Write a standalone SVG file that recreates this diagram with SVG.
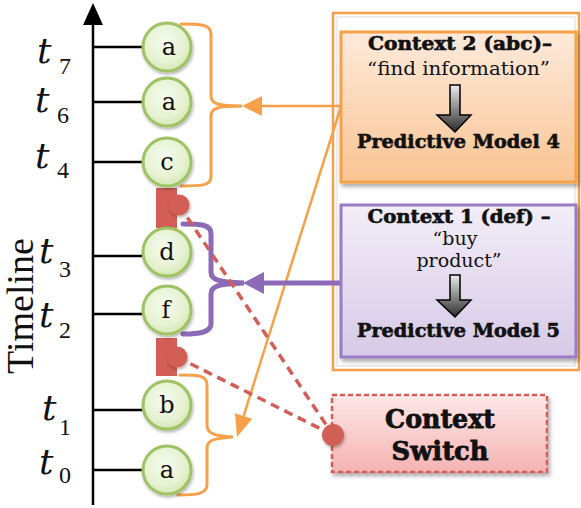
<svg xmlns="http://www.w3.org/2000/svg" width="581" height="508" viewBox="0 0 581 508">
<defs>
<style>
.ev{fill:url(#gEv);stroke:#9fc263;stroke-width:3}
.evt{font-family:"DejaVu Serif",serif;font-size:24px;fill:#111;text-anchor:middle}
.tick{stroke:#000;stroke-width:2.5}
.tl{font-family:"DejaVu Serif",serif;font-style:italic;font-size:36px;fill:#111}
.ts{font-family:"Liberation Serif",serif;font-size:24px;fill:#111}
.red{fill:#d25e57}
.dash{stroke:#d25e57;stroke-width:3.5;stroke-dasharray:9 6;fill:none}
.bo{fill:none;stroke:#f6a14a;stroke-width:3;stroke-linecap:round}
.bp{fill:none;stroke:#8d6ab8;stroke-width:5;stroke-linecap:round}
.hb{font-family:"DejaVu Serif",serif;font-weight:bold;font-size:18px;fill:#111;stroke:#111;stroke-width:0.6;text-anchor:middle}
.hn{font-family:"DejaVu Serif",serif;font-size:19px;fill:#111;text-anchor:middle}
.cs{font-family:"DejaVu Serif",serif;font-weight:bold;font-size:26px;fill:#111;stroke:#111;stroke-width:0.8;text-anchor:middle}
.darr{fill:url(#gArr);stroke:#000;stroke-width:1.5;stroke-linejoin:miter}
</style>
<radialGradient id="gEv" cx="0.45" cy="0.4" r="0.6">
<stop offset="0" stop-color="#f6fbee"/>
<stop offset="0.7" stop-color="#e6f2d2"/>
<stop offset="1" stop-color="#d4e8b4"/>
</radialGradient>
<linearGradient id="gC2" x1="0" y1="0" x2="0" y2="1">
<stop offset="0" stop-color="#fdeadb"/>
<stop offset="1" stop-color="#f9c493"/>
</linearGradient>
<linearGradient id="gC1" x1="0" y1="0" x2="0" y2="1">
<stop offset="0" stop-color="#f3eef8"/>
<stop offset="1" stop-color="#d6c9e6"/>
</linearGradient>
<linearGradient id="gCS" x1="0" y1="0" x2="0" y2="1">
<stop offset="0" stop-color="#fde8e8"/>
<stop offset="1" stop-color="#f6b3b3"/>
</linearGradient>
<linearGradient id="gArr" x1="0" y1="0" x2="0" y2="1">
<stop offset="0" stop-color="#ececec"/>
<stop offset="1" stop-color="#2a2a2a"/>
</linearGradient>
<filter id="sh" x="-10%" y="-10%" width="130%" height="130%">
<feDropShadow dx="2" dy="3" stdDeviation="2" flood-color="#000" flood-opacity="0.35"/>
</filter>
<filter id="shs" x="-20%" y="-20%" width="150%" height="150%">
<feDropShadow dx="1" dy="2" stdDeviation="1.5" flood-color="#000" flood-opacity="0.3"/>
</filter>
</defs>
<rect width="581" height="508" fill="#fff"/>

<g id="outer-frame">
<rect x="333" y="13" width="246" height="357" fill="#fff" stroke="#f6a14a" stroke-width="2.5"/>
<rect x="337" y="17" width="238" height="349" fill="none" stroke="#e6e6e6" stroke-width="1.5"/>
</g>

<g id="axis">
<line x1="93" y1="505" x2="93" y2="22" stroke="#000" stroke-width="2.5"/>
<polygon points="93,3 103,25 83,25" fill="#000"/>
<text transform="translate(33,306) rotate(-90)" font-family="'Liberation Serif',serif" font-size="38" text-anchor="middle" fill="#111">Timeline</text>
</g>

<g id="ticks">
<line class="tick" x1="93" y1="47" x2="145" y2="47"/>
<line class="tick" x1="93" y1="102" x2="145" y2="102"/>
<line class="tick" x1="93" y1="162" x2="145" y2="162"/>
<line class="tick" x1="93" y1="256" x2="145" y2="256"/>
<line class="tick" x1="93" y1="314" x2="145" y2="314"/>
<line class="tick" x1="93" y1="410" x2="145" y2="410"/>
<line class="tick" x1="93" y1="470" x2="145" y2="470"/>
</g>

<g id="time-labels">
<text class="tl" x="37" y="63">t</text><text class="ts" x="59" y="74">7</text>
<text class="tl" x="35" y="112">t</text><text class="ts" x="57" y="123">6</text>
<text class="tl" x="35" y="168">t</text><text class="ts" x="57" y="178">4</text>
<text class="tl" x="39" y="263">t</text><text class="ts" x="59" y="277">3</text>
<text class="tl" x="39" y="327">t</text><text class="ts" x="59" y="338">2</text>
<text class="tl" x="42" y="420">t</text><text class="ts" x="59" y="435">1</text>
<text class="tl" x="39" y="474">t</text><text class="ts" x="59" y="483">0</text>
</g>

<g id="connectors">
<path class="bo" d="M181,24 C200,24 211,24 211,34 L211,96 C211,104 218,106 242,106 C218,106 211,108 211,116 L211,177 C211,186 200,186 181,186"/>
<path class="bo" d="M180,375 C198,375 207,375 207,385 L207,425 C207,433 213,436 233,437 C213,438 207,441 207,448 L207,485 C207,494 196,495 178,495"/>
<path class="bp" d="M183,224 C200,224 211,224 211,234 L211,272 C211,280 218,282 244,283 C218,284 211,286 211,294 L211,324 C211,332 200,334 183,334"/>
<line x1="341" y1="106" x2="258" y2="106" stroke="#f6a14a" stroke-width="2.5"/>
<polygon points="242,106 262,96 262,116" fill="#f6a14a"/>
<line x1="343" y1="100" x2="243.6" y2="416" stroke="#f6a14a" stroke-width="2.5"/>
<polygon points="237,437 252.2,418.7 235,413.3" fill="#f6a14a"/>
<line x1="341" y1="283" x2="259" y2="283" stroke="#8d6ab8" stroke-width="5"/>
<polygon points="243,283 264,272 264,294" fill="#8d6ab8"/>
<line class="dash" x1="179" y1="205" x2="333" y2="435"/>
<line class="dash" x1="177" y1="357" x2="333" y2="435"/>
</g>

<g id="switch-a">
<rect class="red" x="156" y="188" width="21" height="40"/>
<circle class="red" cx="179" cy="205" r="10.5" filter="url(#shs)"/>
</g>
<g id="switch-b">
<rect class="red" x="156" y="338" width="21" height="38"/>
<circle class="red" cx="177" cy="357" r="10.5" filter="url(#shs)"/>
</g>

<g id="event-t7"><circle class="ev" cx="167" cy="47" r="24" filter="url(#shs)"/><text class="evt" x="169" y="55">a</text></g>
<g id="event-t6"><circle class="ev" cx="167" cy="102" r="24" filter="url(#shs)"/><text class="evt" x="169" y="110">a</text></g>
<g id="event-t4"><circle class="ev" cx="167" cy="162" r="24" filter="url(#shs)"/><text class="evt" x="167" y="170">c</text></g>
<g id="event-t3"><circle class="ev" cx="167" cy="252" r="24" filter="url(#shs)"/><text class="evt" x="167" y="260">d</text></g>
<g id="event-t2"><circle class="ev" cx="167" cy="310" r="24" filter="url(#shs)"/><text class="evt" x="166" y="318">f</text></g>
<g id="event-t1"><circle class="ev" cx="167" cy="405" r="24" filter="url(#shs)"/><text class="evt" x="167" y="413">b</text></g>
<g id="event-t0"><circle class="ev" cx="167" cy="470" r="24" filter="url(#shs)"/><text class="evt" x="167" y="478">a</text></g>

<g id="context-2">
<rect x="341" y="32" width="235" height="150" fill="url(#gC2)" stroke="#f6a14a" stroke-width="3" filter="url(#sh)"/>
<text class="hb" x="460" y="50" textLength="184" lengthAdjust="spacingAndGlyphs">Context 2 (abc)–</text>
<text class="hn" x="458.5" y="75" textLength="183" lengthAdjust="spacingAndGlyphs">“find information”</text>
<path class="darr" d="M450,85 H460 V115 H471 L455,132 L437,115 H450 Z"/>
<text class="hb" x="458.5" y="148" textLength="203" lengthAdjust="spacingAndGlyphs">Predictive Model 4</text>
</g>

<g id="context-1">
<rect x="341" y="205" width="235" height="152" fill="url(#gC1)" stroke="#9a7bc4" stroke-width="3" filter="url(#sh)"/>
<text class="hb" x="459" y="223" textLength="183" lengthAdjust="spacingAndGlyphs">Context 1 (def) –</text>
<text class="hn" x="455" y="245">“buy</text>
<text class="hn" x="459" y="267">product”</text>
<path class="darr" d="M450,275 H460 V300 H471 L455,317 L437,300 H450 Z"/>
<text class="hb" x="458.5" y="337" textLength="203" lengthAdjust="spacingAndGlyphs">Predictive Model 5</text>
</g>

<g id="context-switch">
<rect x="332" y="395" width="215" height="77" fill="url(#gCS)" stroke="#d25e57" stroke-width="2.5" stroke-dasharray="5 3" filter="url(#sh)"/>
<text class="cs" x="440" y="428" textLength="110" lengthAdjust="spacingAndGlyphs">Context</text>
<text class="cs" x="440" y="460" textLength="97" lengthAdjust="spacingAndGlyphs">Switch</text>
<circle class="red" cx="333" cy="435" r="11" filter="url(#shs)"/>
</g>
</svg>
